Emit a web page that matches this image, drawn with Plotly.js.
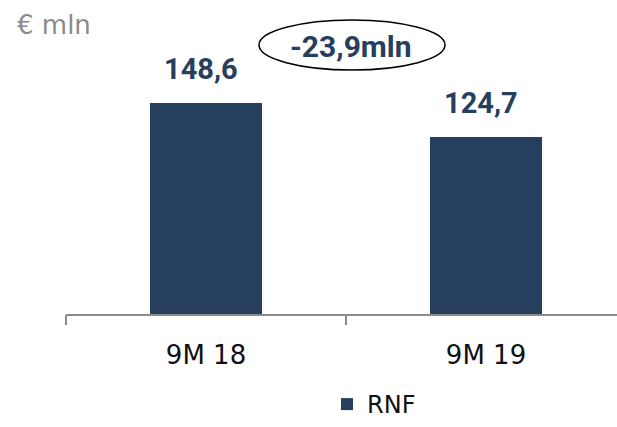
<!DOCTYPE html>
<html>
<head>
<meta charset="utf-8">
<script src="https://cdn.plot.ly/plotly-3.0.1.min.js"></script>
<style>
html,body{margin:0;padding:0;background:#fff;overflow:hidden;}
#chart{width:617px;height:427px;}
</style>
</head>
<body>
<div id="chart"></div>
<script>
var categories = ["9M 18", "9M 19"];
var rnfValues = [148.6, 124.7];
var valueLabels = ["148,6", "124,7"];
var seriesName = "RNF";
var unitLabel = "€ mln";
var deltaLabel = "-23,9mln";

var barColor = "#273f5e";
var axisGray = "#8c8c8c";

var L = 66, R = 617, T = 20, B = 315;
function px(x){ return (x - L) / (R - L); }
function py(y){ return (B - y) / (B - T); }

var trace = {
  type: "bar",
  x: [0, 1],
  y: rnfValues,
  name: seriesName,
  width: 0.4,
  marker: {color: barColor},
  showlegend: true,
  hoverinfo: "skip"
};

var annotations = rnfValues.map(function(v, i){
  return {
    xref: "x", yref: "y", x: i, y: v,
    text: valueLabels[i], showarrow: false,
    yanchor: "middle", yshift: 34, xshift: -5,
    font: {family: "Roboto", size: 29, color: barColor, weight: 700}
  };
});
annotations.push({
  xref: "paper", yref: "paper", x: px(351), y: py(46),
  text: deltaLabel, showarrow: false, xanchor: "center", yanchor: "middle",
  font: {family: "Roboto", size: 30, color: barColor, weight: 700}
});
annotations.push({
  xref: "paper", yref: "paper", x: px(15), y: py(25),
  text: unitLabel, showarrow: false, xanchor: "left", yanchor: "middle",
  font: {family: "DejaVu Sans", size: 26, color: "#8a8a8a"}
});

var tickShapes = [66, 346].map(function(x){
  return {type: "line", xref: "paper", yref: "paper",
    x0: px(x), x1: px(x), y0: 0, y1: -10 / (B - T),
    line: {color: axisGray, width: 2}};
});

var layout = {
  width: 617, height: 427,
  margin: {l: L, r: 617 - R, t: T, b: 427 - B, pad: 0, autoexpand: false},
  paper_bgcolor: "#fff", plot_bgcolor: "#fff",
  xaxis: {
    type: "linear",
    range: [-0.5, -0.5 + (R - L) / 280],
    tickmode: "array", tickvals: [0, 1], ticktext: categories,
    ticks: "", showgrid: false, zeroline: false,
    showline: false, automargin: false,
    tickfont: {family: "DejaVu Sans", size: 26, color: "#111"},
    ticklabelstandoff: 22
  },
  yaxis: {
    range: [0, (B - T) / 1.427],
    visible: false, showgrid: false, zeroline: false
  },
  shapes: [
    {type: "line", xref: "paper", yref: "paper", x0: 0, x1: 1, y0: 0, y1: 0,
     line: {color: axisGray, width: 2}},
    {type: "circle", xref: "paper", yref: "paper",
     x0: px(259), x1: px(445), y0: py(70), y1: py(20),
     line: {color: "#000", width: 1.5}}
  ].concat(tickShapes),
  annotations: annotations,
  showlegend: true,
  legend: {
    orientation: "h",
    xref: "container", yref: "container",
    x: 374 / 617, xanchor: "center",
    y: 0, yanchor: "bottom",
    font: {family: "DejaVu Sans", size: 24, color: "#111"},
    itemwidth: 30
  }
};

Plotly.newPlot("chart", [trace], layout, {displayModeBar: false, staticPlot: true});
</script>
</body>
</html>
